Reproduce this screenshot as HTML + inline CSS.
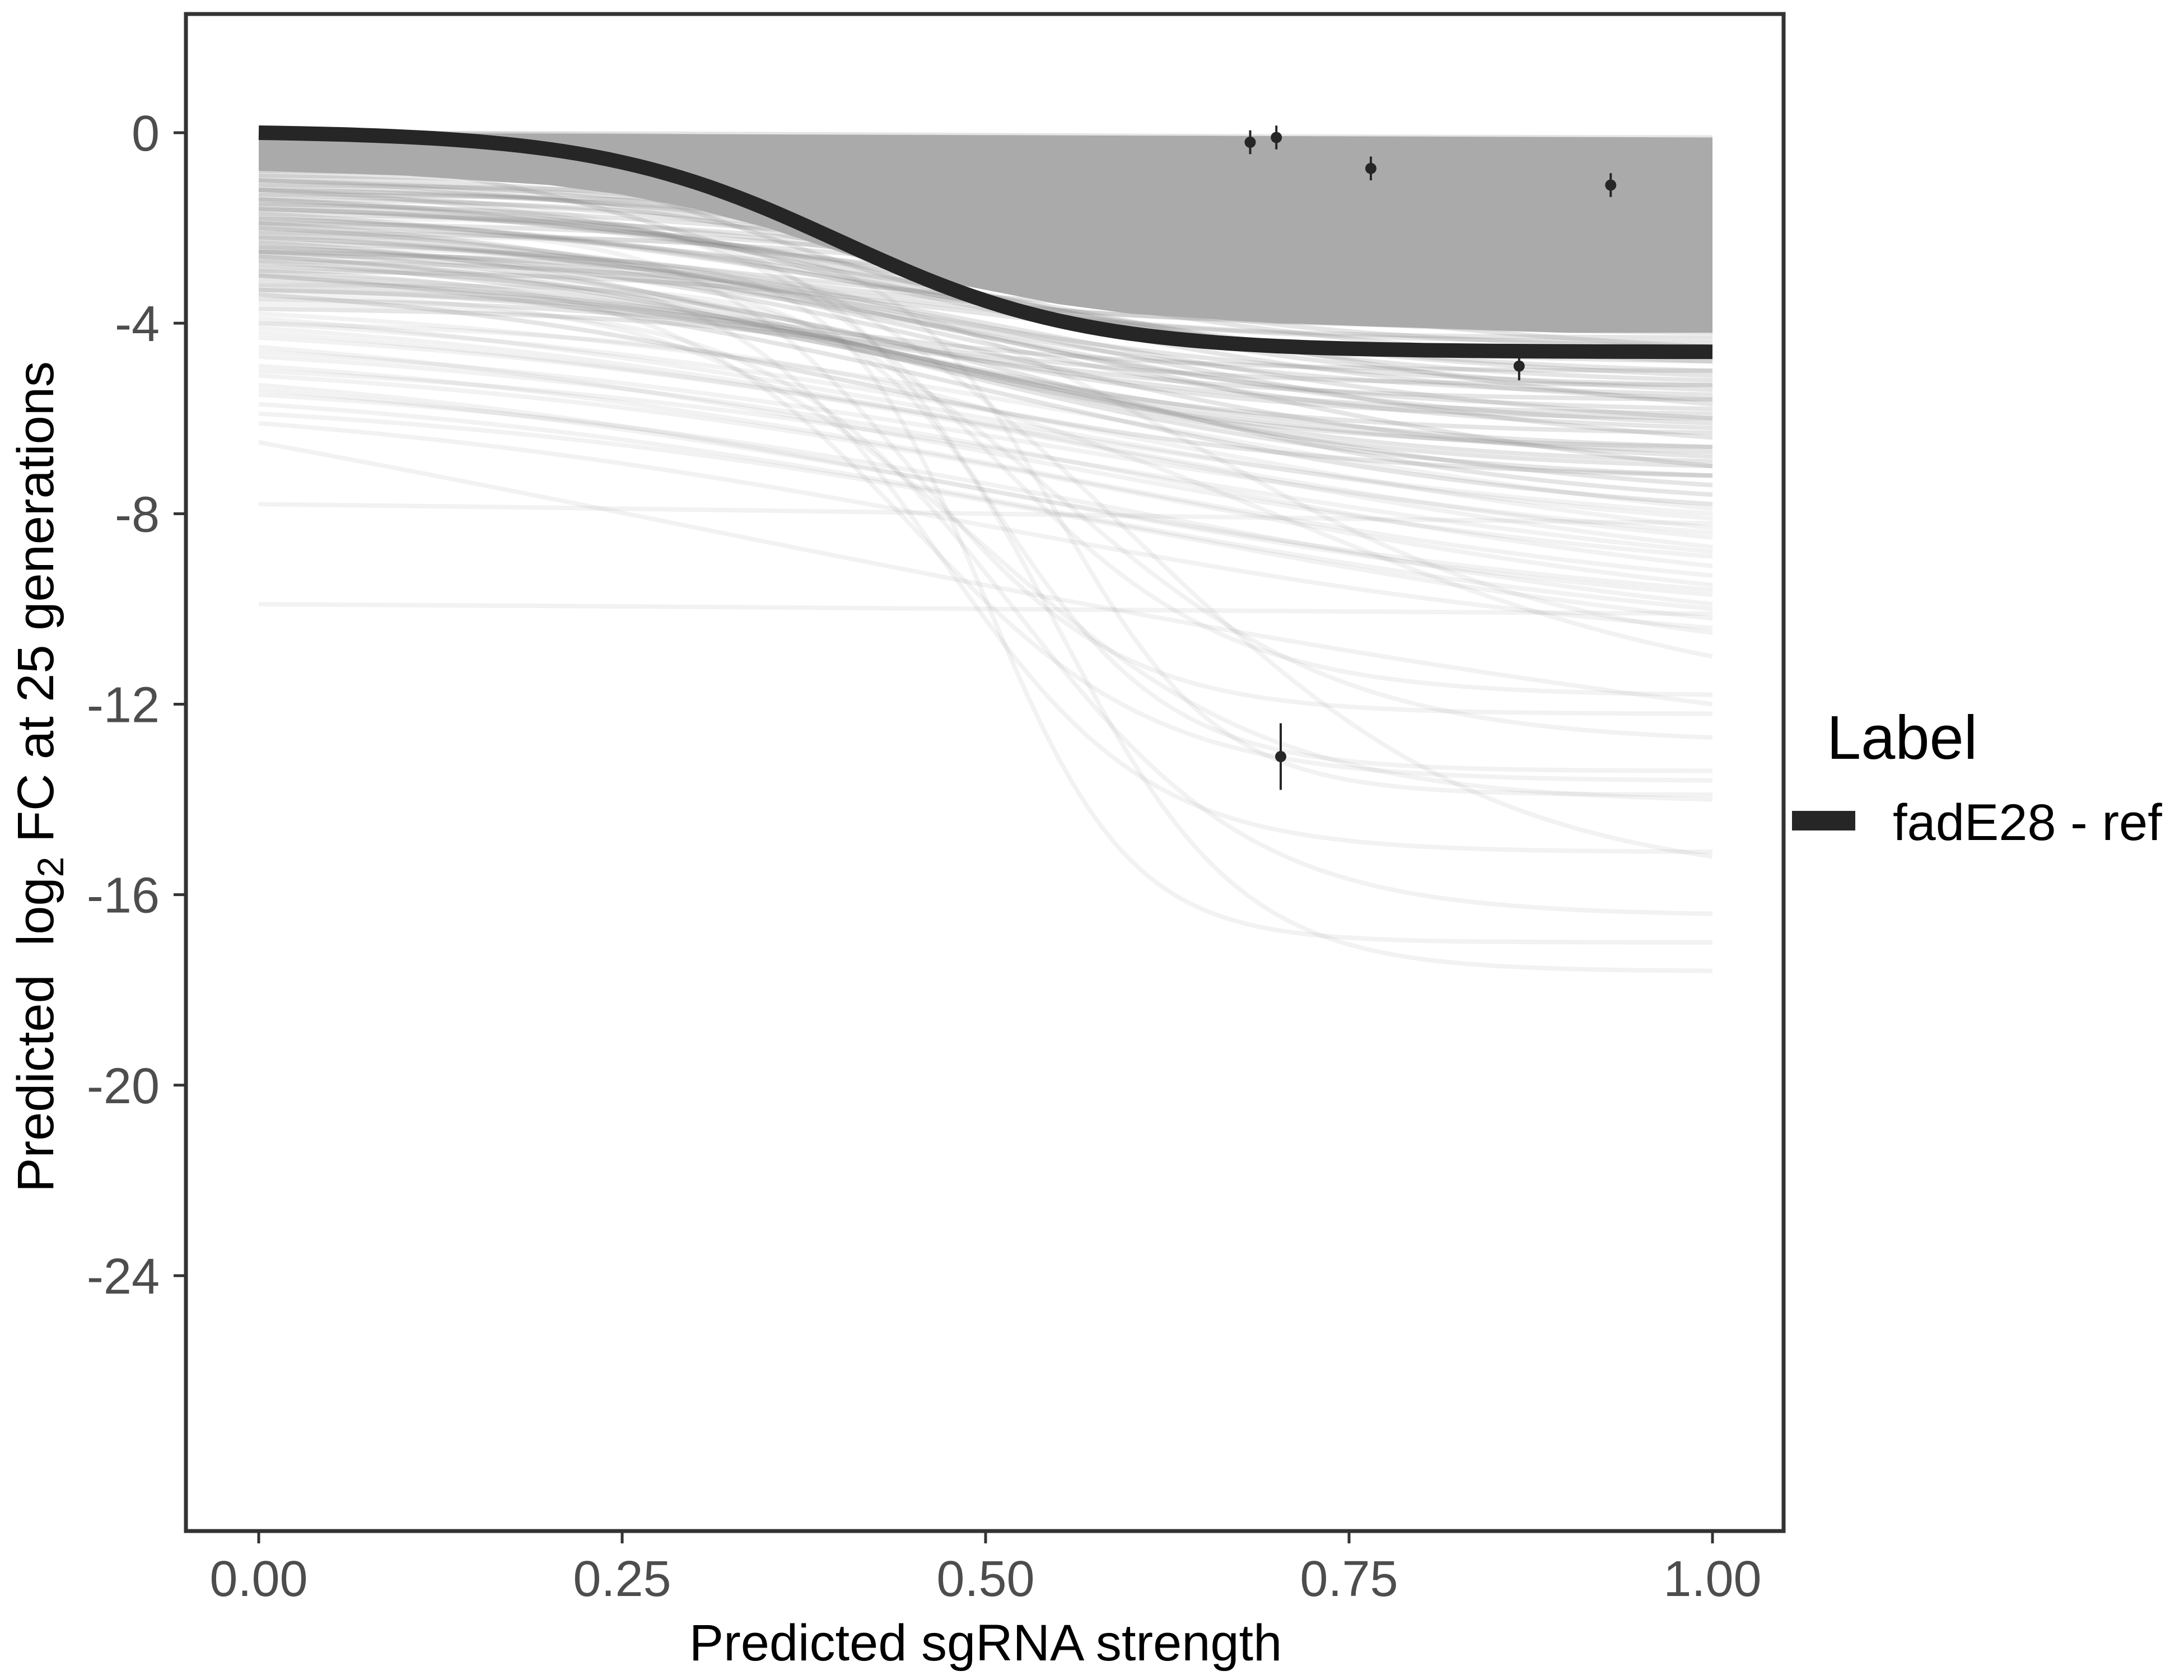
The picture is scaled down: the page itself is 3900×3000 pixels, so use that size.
<!DOCTYPE html>
<html><head><meta charset="utf-8"><style>
html,body{margin:0;padding:0;background:#fff}
svg{display:block}
text{font-family:"Liberation Sans",Arial,sans-serif}
</style></head><body>
<svg id="chart" width="3900" height="3000" viewBox="0 0 3900 3000">
<defs><clipPath id="pc"><rect x="336" y="29" width="2845" height="2702"/></clipPath></defs>
<rect x="0" y="0" width="3900" height="3000" fill="#fff"/>
<g id="bg" clip-path="url(#pc)"></g>
<g id="main" clip-path="url(#pc)"></g>
<g id="pts"></g>
<rect x="332" y="25" width="2853" height="2709" fill="none" stroke="#333" stroke-width="7"/>
<g id="xt"></g>
<g id="yt"></g>
<text x="1760" y="2965" font-size="92" text-anchor="middle" fill="#000">Predicted sgRNA strength</text>
<text transform="translate(95,1387) rotate(-90)" font-size="92" text-anchor="middle" fill="#000" xml:space="preserve">Predicted  log<tspan font-size="66" dy="18">2</tspan><tspan dy="-18"> FC at 25 generations</tspan></text>
<text x="3262" y="1355" font-size="110" fill="#000">Label</text>
<rect x="3200" y="1448" width="113" height="35" fill="#262626"/>
<text x="3380" y="1500" font-size="92" fill="#000">fadE28 - ref</text>
</svg>
<script>
const xTicks=[0,0.25,0.5,0.75,1];
const xTickLabels=["0.00","0.25","0.50","0.75","1.00"];
const yTicks=[0,-4,-8,-12,-16,-20,-24];
const yTickLabels=["0","-4","-8","-12","-16","-20","-24"];
const curveStart=[0,-0.1,-0.2,-0.3,-0.4,-0.5,-0.6,-0.7,-0.8,-0.9,-1.0,-1.1,-1.2,-1.3,-1.4,-1.5,-1.6,-1.7,-1.8,-1.9,-2.0,-2.1,-2.2,-2.3,-2.4,-2.5,-2.6,-2.7,-2.8,-3.0,
0,-0.05,-0.3,-0.5,-0.7,-0.9,-1.1,-1.3,-1.5,-1.7,-1.9,-2.1,-2.3,-2.5,-2.7,-2.9,-3.1,-3.3,-3.5,-3.7,
0,-0.1,-0.2,-0.4,-0.6,-0.8,-1.0,-1.2,-1.4,-1.6,-0.1,-0.3,-0.5,-0.2,-0.4,
-1.2,-1.4,-1.6,-1.9,-2.2,-2.4,-2.6,-2.9,-3.2,-3.4,-1.0,-1.8,-2.5,-3.0,-3.3,-2.0,
-3.8,-3.9,-4.0,-4.1,-4.3,-4.5,-4.7,-4.9,-5.1,-5.3,-5.5,-5.7,-5.9,-6.1,-4.2,-4.6,-5.0,-5.4,
-1.5,-2.0,-2.5,-1.8,-3.0,-2.2,-3.4,-2.8,-1.2,-3.6,-2.6,-3.2,-4.0,-2.4,
-6.5,-7.8,-9.9];
const curveEnd=[-0.1,-0.3,-0.6,-0.9,-1.2,-1.5,-1.8,-2.1,-2.4,-2.7,-3.0,-3.3,-3.6,-3.9,-4.2,-4.5,-4.8,-5.1,-5.4,-5.7,-6.0,-6.2,-6.4,-6.6,-6.8,-7.0,-7.2,-7.4,-7.6,-7.8,
-0.2,-0.5,-0.8,-1.1,-1.4,-1.7,-2.0,-2.3,-2.6,-2.9,-3.2,-3.5,-3.8,-4.1,-4.4,-4.7,-5.0,-5.3,-5.6,-5.9,
-0.4,-0.7,-1.0,-1.3,-1.6,-1.9,-2.2,-2.5,-2.8,-3.1,-3.4,-3.7,-4.0,-4.3,-4.6,
-4.8,-5.0,-5.2,-5.5,-5.8,-6.1,-6.3,-6.6,-6.9,-7.2,-4.5,-5.6,-6.0,-6.7,-7.0,-5.3,
-7.9,-8.1,-8.3,-8.5,-8.7,-8.9,-9.1,-9.3,-9.5,-9.7,-9.9,-10.0,-10.2,-10.4,-8.0,-8.4,-8.8,-9.6,
-11.8,-12.2,-12.7,-13.4,-13.6,-13.9,-14.0,-15.1,-15.2,-16.4,-17.0,-17.6,-11.0,-10.5,
-12.0,-8.2,-10.1];
const curveMid=[0.5,0.45,0.55,0.4,0.5,0.6,0.45,0.5,0.55,0.4,0.5,0.45,0.6,0.5,0.4,0.55,0.5,0.45,0.5,0.6,0.5,0.45,0.55,0.4,0.5,0.6,0.45,0.5,0.55,0.5,
0.35,0.4,0.45,0.5,0.35,0.4,0.45,0.5,0.35,0.4,0.45,0.5,0.35,0.4,0.45,0.5,0.35,0.4,0.45,0.5,
0.3,0.35,0.4,0.3,0.35,0.4,0.3,0.35,0.4,0.3,0.35,0.4,0.3,0.35,0.4,
0.4,0.45,0.5,0.4,0.45,0.5,0.4,0.45,0.5,0.4,0.45,0.5,0.4,0.45,0.5,0.4,
0.6,0.5,0.6,0.55,0.6,0.5,0.6,0.55,0.6,0.5,0.6,0.55,0.6,0.5,0.5,0.55,0.6,0.5,
0.5,0.45,0.55,0.5,0.45,0.55,0.5,0.47,0.6,0.52,0.5,0.55,0.7,0.65,
0.3,0.5,0.5];
const curveSlope=[5,6,5,7,6,5,6,5,6,7,5,6,5,6,7,5,6,5,6,5,5,6,5,7,6,5,6,5,6,5,
8,8,8,8,8,8,8,8,8,8,8,8,8,8,8,8,8,8,8,8,
10,10,10,10,10,10,10,10,10,10,10,10,10,10,10,
7,6,7,6,7,6,7,6,7,6,7,6,7,6,7,6,
4,4,4,4,4,4,4,4,4,4,4,4,4,4,4,4,4,4,
12,14,10,16,12,18,10,14,8,12,20,16,6,8,
2,2,2];
const bandX=[0,0.1,0.2,0.25,0.3,0.35,0.4,0.45,0.5,0.55,0.6,0.7,0.8,0.9,1.0];
const bandLower=[-0.8,-0.9,-1.1,-1.3,-1.6,-2.0,-2.5,-3.0,-3.3,-3.6,-3.8,-4.0,-4.1,-4.2,-4.2];
const mainStart=0, mainEnd=-4.6, mainMid=0.4, mainSlope=12;
const ptX=[0.682,0.70,0.765,0.93,0.867,0.703];
const ptY=[-0.2,-0.1,-0.75,-1.1,-4.9,-13.1];
const ptLo=[-0.45,-0.35,-1.0,-1.35,-5.2,-13.8];
const ptHi=[0.05,0.15,-0.5,-0.85,-4.6,-12.4];

const NS="http://www.w3.org/2000/svg";
const X=v=>462+v*2596;
const Y=v=>237-v*85.04;
function curvePath(s,e,m,k){
  const L=x=>1/(1+Math.exp(-k*(x-m)));
  const l0=L(0),l1=L(1);let d="";
  for(let i=0;i<=100;i++){const x=i/100;const y=s+(e-s)*(L(x)-l0)/(l1-l0);d+=(i?"L":"M")+X(x).toFixed(1)+","+Y(y).toFixed(1);}
  return d;
}
const bg=document.getElementById('bg');
for(let i=0;i<curveStart.length;i++){
  const p=document.createElementNS(NS,'path');
  p.setAttribute('d',curvePath(curveStart[i],curveEnd[i],curveMid[i],curveSlope[i]));
  p.setAttribute('fill','none');p.setAttribute('stroke','#8a8a8a');
  p.setAttribute('stroke-opacity',i<81?'0.22':'0.11');p.setAttribute('stroke-width','8');
  
  
  bg.appendChild(p);
}
(function(){
  const p=document.createElementNS(NS,'path');
  let d="M"+X(0)+","+Y(0)+"L"+X(1)+","+Y(-0.1);
  for(let i=bandX.length-1;i>=0;i--){d+="L"+X(bandX[i]).toFixed(1)+","+Y(bandLower[i]).toFixed(1);}
  p.setAttribute('d',d+"Z");
  p.setAttribute('fill','#aaaaaa');
  
  
  bg.appendChild(p);
})();
const mg=document.getElementById('main');
const mp=document.createElementNS(NS,'path');
mp.setAttribute('d',curvePath(mainStart,mainEnd,mainMid,mainSlope));
mp.setAttribute('fill','none');mp.setAttribute('stroke','#262626');mp.setAttribute('stroke-width','26');


mg.appendChild(mp);
const pg=document.getElementById('pts');
for(let i=0;i<ptX.length;i++){
  const l=document.createElementNS(NS,'line');
  l.setAttribute('x1',X(ptX[i]));l.setAttribute('x2',X(ptX[i]));
  l.setAttribute('y1',Y(ptLo[i]));l.setAttribute('y2',Y(ptHi[i]));
  l.setAttribute('stroke','#262626');l.setAttribute('stroke-width','4');
  
  
  pg.appendChild(l);
  const c=document.createElementNS(NS,'circle');
  c.setAttribute('cx',X(ptX[i]));c.setAttribute('cy',Y(ptY[i]));c.setAttribute('r','10');c.setAttribute('fill','#262626');
  
  
  pg.appendChild(c);
}
const xt=document.getElementById('xt');
xTicks.forEach((v,i)=>{
  const l=document.createElementNS(NS,'line');
  l.setAttribute('x1',X(v));l.setAttribute('x2',X(v));l.setAttribute('y1',2737);l.setAttribute('y2',2756);
  l.setAttribute('stroke','#333');l.setAttribute('stroke-width','5');
  
  
  xt.appendChild(l);
  const t=document.createElementNS(NS,'text');
  t.setAttribute('x',X(v));t.setAttribute('y',2850);t.setAttribute('font-size','90');
  t.setAttribute('text-anchor','middle');t.setAttribute('fill','#4d4d4d');t.textContent=xTickLabels[i];
  
  
  xt.appendChild(t);
});
const yt=document.getElementById('yt');
yTicks.forEach((v,i)=>{
  const l=document.createElementNS(NS,'line');
  l.setAttribute('x1',310);l.setAttribute('x2',329);l.setAttribute('y1',Y(v));l.setAttribute('y2',Y(v));
  l.setAttribute('stroke','#333');l.setAttribute('stroke-width','5');
  
  
  yt.appendChild(l);
  const t=document.createElementNS(NS,'text');
  t.setAttribute('x',285);t.setAttribute('y',Y(v)+32);t.setAttribute('font-size','90');
  t.setAttribute('text-anchor','end');t.setAttribute('fill','#4d4d4d');t.textContent=yTickLabels[i];
  
  
  yt.appendChild(t);
});
</script>
</body></html>
